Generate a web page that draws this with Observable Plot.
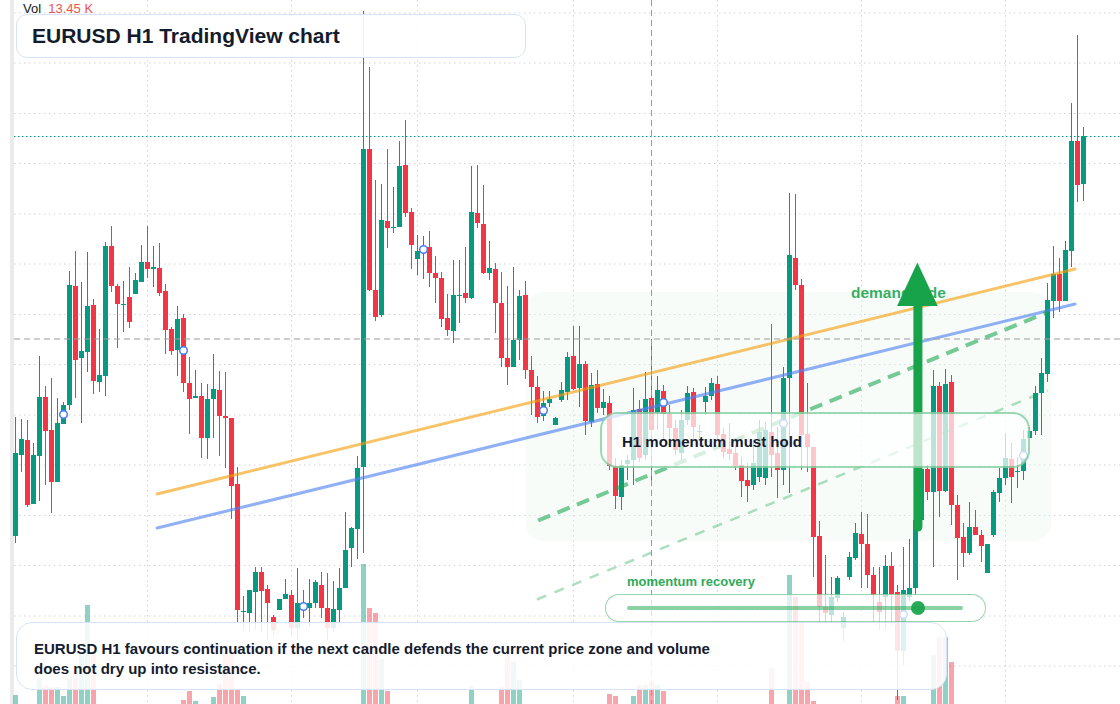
<!DOCTYPE html>
<html><head><meta charset="utf-8">
<script src="https://cdn.jsdelivr.net/npm/d3@7"></script>
<script src="https://cdn.jsdelivr.net/npm/@observablehq/plot@0.6"></script>
<style>
body{margin:0;background:#fff;font-family:"Liberation Sans",Arial,sans-serif;}
#chart{position:relative;width:1120px;height:704px;overflow:hidden;background:#fff;}
#chart svg{position:absolute;left:0;top:0;}
.ov{position:absolute;box-sizing:border-box;}
</style></head><body><div id="chart"></div>
<script>
// ---------- data (EURUSD H1, 179 candles) ----------
const open = [
1.07953,1.08115,1.08145,1.08017,1.08113,1.08231,1.08165,1.08061,1.08177,1.08215,
1.08453,1.08309,1.08321,1.08415,1.08261,1.08273,1.08533,1.08453,1.08415,1.08431,
1.08437,1.08461,1.08501,1.08487,1.08489,1.08443,1.08367,1.08325,1.08389,1.08259,
1.08229,1.08233,1.08149,1.08227,1.08245,1.08193,1.08189,1.08057,1.07801,1.07799,
1.07841,1.07881,1.07847,1.07791,1.07805,1.07827,1.07835,1.07769,1.07819,1.07809,
1.07819,1.07855,1.07809,1.07769,1.07805,1.07849,1.07929,1.07967,1.08091,1.08727,
1.08445,1.08395,1.08583,1.08569,1.08571,1.08695,1.08601,1.08507,1.08521,1.08531,
1.08479,1.08469,1.08389,1.08363,1.08433,1.08439,1.08429,1.08599,1.08577,1.08479,
1.08487,1.08419,1.08309,1.08291,1.08345,1.08435,1.08285,1.08251,1.08193,1.08219,
1.08175,1.08225,1.08241,1.08313,1.08249,1.08297,1.08181,1.08257,1.08209,1.08219,
1.08093,1.08031,1.08097,1.08105,1.08207,1.08115,1.08229,1.08199,1.08243,1.08197,
1.08169,1.08119,1.08185,1.08241,1.08161,1.08221,1.08233,1.08257,1.08157,1.08127,
1.08119,1.08095,1.08065,1.08055,1.08071,1.08069,1.08161,1.08119,1.08085,1.08269,
1.08509,1.08455,1.08157,1.08131,1.07953,1.07811,1.07795,1.07829,1.07769,1.07871,
1.07909,1.07957,1.07937,1.07875,1.07821,1.07831,1.07893,1.07841,1.07723,1.07831,
1.07849,1.07985,1.08087,1.08041,1.08253,1.08043,1.08261,1.08015,1.07951,1.07919,
1.07971,1.07955,1.07879,1.07955,1.08039,1.08069,1.08107,1.08081,1.08083,1.08149,
1.08163,1.08239,1.08277,1.08423,1.08477,1.08423,1.08523,1.08743,1.08657];
const high = [
1.08191,1.08187,1.08185,1.08139,1.08313,1.08253,1.08269,1.08229,1.08221,1.08483,
1.08523,1.08461,1.08521,1.08427,1.08367,1.08541,1.08573,1.08457,1.08463,1.08491,
1.08479,1.08535,1.08573,1.08533,1.08539,1.08457,1.08371,1.08413,1.08397,1.08311,
1.08285,1.08259,1.08257,1.08317,1.08283,1.08281,1.08189,1.08091,1.07833,1.07845,
1.07891,1.07891,1.07855,1.07795,1.07827,1.07867,1.07845,1.07889,1.07845,1.07867,
1.07865,1.07881,1.07879,1.07863,1.07889,1.08001,1.07971,1.08113,1.09003,1.08891,
1.08665,1.08657,1.08727,1.08651,1.08743,1.08785,1.08609,1.08555,1.08553,1.08563,
1.08513,1.08481,1.08437,1.08505,1.08505,1.08531,1.08693,1.08695,1.08655,1.08543,
1.08499,1.08481,1.08453,1.08491,1.08445,1.08463,1.08313,1.08273,1.08243,1.08243,
1.08191,1.08261,1.08321,1.08373,1.08373,1.08303,1.08279,1.08285,1.08247,1.08233,
1.08109,1.08105,1.08115,1.08249,1.08225,1.08281,1.08347,1.08273,1.08255,1.08215,
1.08185,1.08205,1.08253,1.08249,1.08175,1.08251,1.08269,1.08273,1.08169,1.08179,
1.08135,1.08111,1.08099,1.08145,1.08185,1.08181,1.08377,1.08171,1.08291,1.08639,
1.08637,1.08467,1.08259,1.08131,1.07983,1.07915,1.07871,1.07873,1.07801,1.07921,
1.07979,1.08001,1.07997,1.07891,1.07891,1.07915,1.07921,1.07855,1.07931,1.07947,
1.07965,1.08101,1.08095,1.08285,1.08261,1.08287,1.08275,1.08035,1.07979,1.08021,
1.08005,1.07965,1.07937,1.08045,1.08089,1.08159,1.08139,1.08111,1.08165,1.08171,
1.08253,1.08309,1.08459,1.08533,1.08509,1.08543,1.08819,1.08955,1.08771];
const low = [
1.07939,1.08081,1.08011,1.08017,1.08023,1.08055,1.07999,1.08061,1.08177,1.08205,
1.08229,1.08179,1.08281,1.08237,1.08241,1.08233,1.08441,1.08329,1.08361,1.08369,
1.08437,1.08461,1.08469,1.08451,1.08433,1.08317,1.08315,1.08273,1.08241,1.08157,
1.08229,1.08109,1.08107,1.08149,1.08113,1.08089,1.07987,1.07781,1.07765,1.07761,
1.07765,1.07761,1.07745,1.07755,1.07805,1.07827,1.07753,1.07745,1.07789,1.07771,
1.07809,1.07789,1.07745,1.07761,1.07775,1.07849,1.07891,1.07907,1.07919,1.08443,
1.08383,1.08391,1.08529,1.08559,1.08571,1.08591,1.08487,1.08475,1.08467,1.08451,
1.08419,1.08371,1.08353,1.08339,1.08379,1.08419,1.08427,1.08569,1.08477,1.08465,
1.08359,1.08291,1.08255,1.08291,1.08305,1.08267,1.08195,1.08179,1.08183,1.08211,
1.08175,1.08221,1.08225,1.08245,1.08211,1.08155,1.08171,1.08199,1.08195,1.08085,
1.08007,1.08005,1.08065,1.08055,1.08101,1.08105,1.08065,1.08165,1.08145,1.08135,
1.08115,1.08105,1.08175,1.08145,1.08149,1.08195,1.08225,1.08145,1.08109,1.08105,
1.08085,1.08031,1.08021,1.08045,1.08061,1.08055,1.08071,1.08029,1.08055,1.08039,
1.08445,1.08085,1.08081,1.07871,1.07779,1.07779,1.07779,1.07821,1.07743,1.07865,
1.07905,1.07849,1.07849,1.07779,1.07765,1.07765,1.07775,1.07625,1.07695,1.07823,
1.07835,1.07975,1.08025,1.07891,1.07991,1.08041,1.07975,1.07865,1.07891,1.07915,
1.07955,1.07901,1.07879,1.07951,1.08021,1.08055,1.08019,1.08049,1.08065,1.08149,
1.08155,1.08155,1.08261,1.08389,1.08401,1.08423,1.08491,1.08621,1.08623];
const close = [
1.08119,1.08147,1.08015,1.08115,1.08231,1.08163,1.08061,1.08179,1.08215,1.08455,
1.08305,1.08323,1.08413,1.08263,1.08275,1.08533,1.08453,1.08417,1.08417,1.08381,
1.08465,1.08501,1.08487,1.08491,1.08439,1.08365,1.08323,1.08387,1.08259,1.08227,
1.08233,1.08149,1.08227,1.08247,1.08193,1.08189,1.08053,1.07805,1.07803,1.07845,
1.07881,1.07843,1.07819,1.07765,1.07827,1.07837,1.07769,1.07819,1.07805,1.07819,
1.07861,1.07809,1.07769,1.07807,1.07849,1.07925,1.07969,1.08089,1.08727,1.08445,
1.08391,1.08585,1.08569,1.08571,1.08693,1.08599,1.08535,1.08523,1.08525,1.08479,
1.08469,1.08387,1.08365,1.08435,1.08435,1.08429,1.08601,1.08579,1.08479,1.08489,
1.08419,1.08309,1.08291,1.08345,1.08433,1.08285,1.08251,1.08191,1.08219,1.08227,
1.08189,1.08245,1.08311,1.08247,1.08297,1.08183,1.08255,1.08209,1.08221,1.08093,
1.08033,1.08095,1.08105,1.08205,1.08109,1.08227,1.08165,1.08245,1.08197,1.08169,
1.08125,1.08185,1.08239,1.08171,1.08163,1.08233,1.08259,1.08155,1.08121,1.08117,
1.08093,1.08063,1.08053,1.08099,1.08161,1.08165,1.08115,1.08085,1.08269,1.08515,
1.08455,1.08155,1.08131,1.07951,1.07811,1.07799,1.07831,1.07869,1.07791,1.07911,
1.07959,1.07937,1.07875,1.07835,1.07801,1.07893,1.07837,1.07723,1.07845,1.07849,
1.07985,1.08087,1.08041,1.08253,1.08043,1.08257,1.08015,1.07949,1.07919,1.07971,
1.07955,1.07933,1.07937,1.08041,1.08069,1.08109,1.08071,1.08083,1.08147,1.08163,
1.08239,1.08279,1.08425,1.08477,1.08423,1.08525,1.08743,1.08655,1.08753];
// volume in thousands
const volumeK = [
1.8,0,0,0,5.2,3.6,3.4,3.4,1.6,5.0,
6.8,10.8,19.8,10.4,0,0,0,0,0,0,
0,0,0,0,0,0,0,0,0.8,2.6,
0.6,0,0,1.4,4.0,10.2,10.2,2.8,1.6,0,
0,0,0,0,0,0,0,0,0,0,
0,0,0,0,0,0,0,0,28.0,19.2,
18.2,9.0,2.6,0,0,0,0,0,0,0,
0,0,0,0,0,0,3.6,0,0,0,
0,3.4,10.2,8.4,4.8,0,0,0,0,0,
0,0,0,0,0,0,0,0,0,2.0,
1.6,0,0,1.6,3.8,3.8,4.4,3.8,2.6,0,
0,0,0,0,0,0,0,0,0,0,
0,0,0,0,0,0,7.2,0,0,25.8,
21.4,16.2,4.4,0.6,0,0,0,0,0,0,
0,0,0,0,0,0,0,1.6,1.6,0,
0,0,0,9.8,13.4,13.4,8.4,0,0,0,
0,0,0,0,0,0,0,0,0,0,
0,0,0,0,0,0,0,0,0];
// signal markers (bar index, price)
const markerIdx = [8, 28, 48, 68, 88, 108, 128, 148, 168];
const markerPrice = [1.08197, 1.08325, 1.07813, 1.08527, 1.08205, 1.08221, 1.08179, 1.07797, 1.08115];
// drawings: anchors as (bar index, price)
const resistanceLine = [{i: 23.6, p: 1.08038}, {i: 176.6, p: 1.08488}];
const supportLine    = [{i: 23.6, p: 1.07970}, {i: 176.6, p: 1.08418}];
const momentumLine   = [{i: 87.1, p: 1.07985}, {i: 172.1, p: 1.08402}];
const lowerChannel   = [{i: 86.9, p: 1.07827}, {i: 172.0, p: 1.08245}];
const demandZone = {i1: 85.1, i2: 172.75, p1: 1.07943, p2: 1.08441};
const arrowIdx = 150.4, arrowFrom = 1.07971, arrowBase = 1.08413, arrowTip = 1.08500, arrowHalf = 3.38;
const crossIdx = 106, crossPrice = 1.08348;
const gridPrices = [1.09000,1.08900,1.08799,1.08699,1.08598,1.08498,1.08397,1.08297,1.08196,1.08096,1.07995,1.07895,1.07794,1.07694];
const gridIdx = [22, 46, 67, 93, 117, 141, 165];
const labelIdx = 139.25, labelPrice = 1.08439, labelText = "demand side";

// ---------- build ----------
const GREEN = "#089981", RED = "#f23645";
const bars = open.map((o, i) => ({i, o, h: high[i], l: low[i], c: close[i], v: volumeK[i], up: close[i] >= o}));
const X = {domain: [0, 178], range: [15, 1083], axis: null};
const base = {width: 1120, height: 704, marginTop: 0, marginRight: 0, marginBottom: 0, marginLeft: 14,
  x: X, style: {background: "none", overflow: "visible", fontFamily: "Liberation Sans, Arial, sans-serif"}};
const Y = {domain: [1.07617, 1.09025], range: [704, 0], axis: null};

const gridPlot = Plot.plot({...base, y: Y, marks: [
  Plot.ruleY(gridPrices, {stroke: "#cfd2d8", strokeDasharray: "1.5 3.5"}),
  Plot.ruleX(gridIdx, {stroke: "#cfd2d8", strokeDasharray: "1.5 3.5"})
]});
const volPlot = Plot.plot({...base, y: {domain: [0, 140.8], range: [704, 0], axis: null}, marks: [
  Plot.ruleX(bars.filter(d => d.v > 0), {x: "i", y1: 0, y2: "v", strokeWidth: 5,
    stroke: d => d.up ? "rgba(8,153,129,0.45)" : "rgba(242,54,69,0.45)"})
]});
const head = [
  {i: arrowIdx - arrowHalf, b: arrowBase, t: arrowBase},
  {i: arrowIdx, b: arrowBase, t: arrowTip},
  {i: arrowIdx + arrowHalf, b: arrowBase, t: arrowBase}];
const markers = markerIdx.map((i, k) => ({i, p: markerPrice[k]}));
const mainPlot = Plot.plot({...base, y: Y, marks: [
  Plot.rect([demandZone], {x1: "i1", x2: "i2", y1: "p1", y2: "p2", fill: "#eaf8ee", fillOpacity: 0.38, rx: 18}),
  Plot.ruleX(bars, {x: "i", y1: "l", y2: "h", stroke: d => d.up ? GREEN : RED, strokeWidth: 1}),
  Plot.ruleX(bars, {x: "i", y1: "o", y2: "c", stroke: d => d.up ? GREEN : RED, strokeWidth: 5}),
  Plot.line(lowerChannel, {x: "i", y: "p", stroke: "#16a34a", strokeOpacity: 0.35, strokeWidth: 2.5, strokeDasharray: "10 9", strokeLinecap: "butt"}),
  Plot.line(resistanceLine, {x: "i", y: "p", stroke: "#f59e0b", strokeOpacity: 0.62, strokeWidth: 3}),
  Plot.line(supportLine, {x: "i", y: "p", stroke: "#4f7ff0", strokeOpacity: 0.62, strokeWidth: 3}),
  Plot.line(momentumLine, {x: "i", y: "p", stroke: "#16a34a", strokeOpacity: 0.58, strokeWidth: 4, strokeDasharray: "13 8", strokeLinecap: "butt"}),
  Plot.ruleY([close[close.length - 1]], {stroke: GREEN, strokeDasharray: "1.5 2.5"}),
  Plot.ruleY([crossPrice], {stroke: "#9b9b9b", strokeDasharray: "6 4"}),
  Plot.ruleX([crossIdx], {stroke: "#9b9b9b", strokeDasharray: "6 4"}),
  Plot.dot(markers, {x: "i", y: "p", r: 3.8, stroke: "#4a7cf5", strokeWidth: 1.5, fill: "white"}),
  Plot.text([{i: labelIdx, p: labelPrice, t: labelText}], {x: "i", y: "p", text: "t", textAnchor: "start",
    fontSize: 15.5, fontWeight: "bold", fill: "#16a34a", fillOpacity: 0.88}),
  Plot.ruleX([arrowIdx], {y1: arrowFrom, y2: arrowBase + 0.0001, stroke: "#16a34a", strokeWidth: 9, strokeLinecap: "round"}),
  Plot.areaY(head, {x: "i", y1: "b", y2: "t", fill: "#16a34a"})
]});

const chart = document.getElementById("chart");
const strip = document.createElement("div");
strip.className = "ov"; strip.style.cssText = "left:10px;top:0;width:4px;height:704px;background:#ebebeb;";
chart.append(strip, gridPlot, volPlot, mainPlot);

function ov(css, html) {
  const d = document.createElement("div"); d.className = "ov"; d.style.cssText = css; d.innerHTML = html || ""; chart.append(d); return d;
}
ov("left:23px;top:0;height:17px;line-height:17px;font-size:13px;color:#131722;white-space:nowrap;",
   'Vol&nbsp;&nbsp;<span style="color:#ef5350">13.45 K</span>');
ov("left:16px;top:14px;width:510px;height:44px;border:1.5px solid #d7e4f8;border-radius:11px;background:rgba(255,255,255,0.9);" +
   "padding-left:15px;display:flex;align-items:center;font-size:21px;font-weight:bold;color:#141b2d;", "EURUSD H1 TradingView chart");
ov("left:600px;top:412px;width:430px;height:56px;border:2px solid rgba(22,163,74,0.42);border-radius:17px;background:rgba(255,255,255,0.72);" +
   "padding-left:20px;padding-top:2px;display:flex;align-items:center;font-size:15px;font-weight:bold;color:#141b2d;", "H1 momentum must hold");
ov("left:627px;top:574px;font-size:13px;font-weight:bold;color:#16a34a;opacity:0.9;white-space:nowrap;line-height:16px;", "momentum recovery");
ov("left:605px;top:594px;width:381px;height:28px;border:1.5px solid rgba(22,163,74,0.45);border-radius:14px;background:rgba(255,255,255,0.72);");
ov("left:627px;top:606px;width:336px;height:4px;background:rgba(22,163,74,0.5);border-radius:2px;");
ov("left:911px;top:601px;width:14px;height:14px;border-radius:7px;background:#16a34a;opacity:0.92;");
ov("left:16px;top:622px;width:931px;height:68px;border:1.5px solid #d7e4f8;border-radius:16px;background:rgba(255,255,255,0.87);" +
   "padding:16px 0 0 17px;font-size:15px;font-weight:bold;color:#141b2d;line-height:20px;",
   "EURUSD H1 favours continuation if the next candle defends the current price zone and volume<br>does not dry up into resistance.");
</script></body></html>
